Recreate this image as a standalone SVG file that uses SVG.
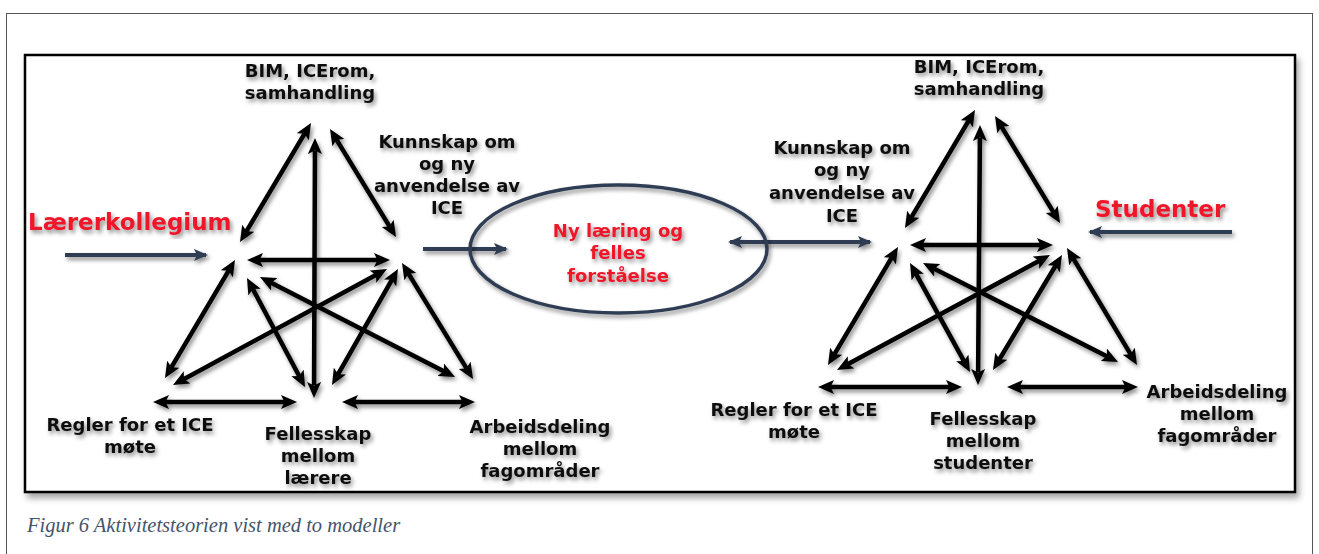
<svg xmlns="http://www.w3.org/2000/svg" width="1319" height="554" viewBox="0 0 1319 554">
  <style>
    .lbl { font-family: "DejaVu Sans", Verdana, sans-serif; font-weight: bold; font-size: 18px; fill: #111; text-anchor: middle; }
    .red { font-family: "DejaVu Sans", Verdana, sans-serif; font-weight: bold; fill: #f0142a; }
    .dbl { stroke: #000; stroke-width: 4.5; fill: none; stroke-dasharray: 0 5 90 5; marker-start: url(#head); marker-end: url(#head); }
    .nav { stroke: #2f3d52; stroke-width: 4; fill: none; }
    .cap { font-family: "Liberation Serif", "Times New Roman", serif; font-style: italic; font-size: 20.5px; fill: #44546a; }
  </style>
  <defs>
    <filter id="sh" x="-10%" y="-10%" width="125%" height="125%">
      <feDropShadow dx="2" dy="3" stdDeviation="2" flood-color="#000" flood-opacity="0.45"/>
    </filter>
    <filter id="boxsh" x="-2%" y="-3%" width="104%" height="108%">
      <feDropShadow dx="3" dy="5" stdDeviation="3" flood-color="#000" flood-opacity="0.35"/>
    </filter>
    <marker id="head" markerUnits="userSpaceOnUse" viewBox="0 0 16 14" markerWidth="16" markerHeight="14" refX="16" refY="7" orient="auto-start-reverse">
      <path d="M0,0 L16,7 L0,14 L3.5,7 z" fill="#000"/>
    </marker>
    <marker id="nhead" markerUnits="userSpaceOnUse" viewBox="0 0 14 12" markerWidth="14" markerHeight="12" refX="12" refY="6" orient="auto-start-reverse">
      <path d="M0,0 L14,6 L0,12 L3,6 z" fill="#2f3d52"/>
    </marker>
  </defs>

  <!-- page frame -->
  <rect x="6.5" y="13.5" width="1306" height="560" fill="#fff" stroke="#555" stroke-width="1"/>

  <!-- figure box -->
  <rect x="25" y="55" width="1270" height="437" fill="#fff" stroke="#000" stroke-width="2.5" filter="url(#boxsh)"/>

  <!-- connectors -->
  <g id="connectors" filter="url(#sh)">
    <!-- left model -->
    <path class="dbl" pathLength="100" d="M240,242 L311,123"/>
    <path class="dbl" pathLength="100" d="M315,138 L314,398"/>
    <path class="dbl" pathLength="100" d="M330,129 L396,237"/>
    <path class="dbl" pathLength="100" d="M247,260 L390,260"/>
    <path class="dbl" pathLength="100" d="M235,260 L165,378"/>
    <path class="dbl" pathLength="100" d="M247,278 L305,387"/>
    <path class="dbl" pathLength="100" d="M260,277 L455,377"/>
    <path class="dbl" pathLength="100" d="M387,269 L173,385"/>
    <path class="dbl" pathLength="100" d="M398,269 L332,385"/>
    <path class="dbl" pathLength="100" d="M402,263 L473,379"/>
    <path class="dbl" pathLength="100" d="M153,402 L297,402"/>
    <path class="dbl" pathLength="100" d="M342,402 L475,402"/>
    <!-- right model -->
    <path class="dbl" pathLength="100" d="M905,228 L975,110"/>
    <path class="dbl" pathLength="100" d="M980,125 L978,385"/>
    <path class="dbl" pathLength="100" d="M995,116 L1060,223"/>
    <path class="dbl" pathLength="100" d="M910,245 L1053,245"/>
    <path class="dbl" pathLength="100" d="M898,247 L828,365"/>
    <path class="dbl" pathLength="100" d="M910,263 L970,372"/>
    <path class="dbl" pathLength="100" d="M923,263 L1118,362"/>
    <path class="dbl" pathLength="100" d="M1050,255 L837,370"/>
    <path class="dbl" pathLength="100" d="M1062,255 L993,370"/>
    <path class="dbl" pathLength="100" d="M1067,248 L1137,365"/>
    <path class="dbl" pathLength="100" d="M818,387 L962,387"/>
    <path class="dbl" pathLength="100" d="M1007,387 L1138,387"/>
    <!-- links between the models -->
    <path class="nav" d="M65,255 L206,255" marker-end="url(#nhead)"/>
    <path class="nav" d="M423,249 L506,249" marker-end="url(#nhead)"/>
    <path class="nav" d="M730,242 L870,242" marker-start="url(#nhead)" marker-end="url(#nhead)"/>
    <path class="nav" d="M1232,232 L1090,232" marker-end="url(#nhead)"/>
  </g>

  <!-- shared outcome -->
  <g id="outcome" filter="url(#sh)">
    <ellipse cx="618.5" cy="249" rx="148.5" ry="64" fill="none" stroke="#2f3d52" stroke-width="3.5"/>
    <text class="red" font-size="18" text-anchor="middle"><tspan x="618" y="237">Ny læring og</tspan><tspan x="618" y="259">felles</tspan><tspan x="618" y="282">forståelse</tspan></text>
  </g>

  <!-- left model: teachers -->
  <g id="left-subject" filter="url(#sh)">
    <text class="red" font-size="23" x="28" y="230">Lærerkollegium</text>
  </g>
  <g id="left-tools" filter="url(#sh)">
    <text class="lbl"><tspan x="310" y="77">BIM, ICErom,</tspan><tspan x="310" y="99">samhandling</tspan></text>
  </g>
  <g id="left-object" filter="url(#sh)">
    <text class="lbl"><tspan x="447" y="148">Kunnskap om</tspan><tspan x="447" y="170">og ny</tspan><tspan x="447" y="192">anvendelse av</tspan><tspan x="447" y="214">ICE</tspan></text>
  </g>
  <g id="left-rules" filter="url(#sh)">
    <text class="lbl"><tspan x="130" y="431">Regler for et ICE</tspan><tspan x="130" y="453">møte</tspan></text>
  </g>
  <g id="left-community" filter="url(#sh)">
    <text class="lbl"><tspan x="318" y="440">Fellesskap</tspan><tspan x="318" y="462">mellom</tspan><tspan x="318" y="484">lærere</tspan></text>
  </g>
  <g id="left-division" filter="url(#sh)">
    <text class="lbl"><tspan x="540" y="433">Arbeidsdeling</tspan><tspan x="540" y="455">mellom</tspan><tspan x="540" y="477">fagområder</tspan></text>
  </g>

  <!-- right model: students -->
  <g id="right-subject" filter="url(#sh)">
    <text class="red" font-size="23" x="1095" y="217">Studenter</text>
  </g>
  <g id="right-tools" filter="url(#sh)">
    <text class="lbl"><tspan x="979" y="73">BIM, ICErom,</tspan><tspan x="979" y="95">samhandling</tspan></text>
  </g>
  <g id="right-object" filter="url(#sh)">
    <text class="lbl"><tspan x="842" y="154">Kunnskap om</tspan><tspan x="842" y="176">og ny</tspan><tspan x="842" y="199">anvendelse av</tspan><tspan x="842" y="222">ICE</tspan></text>
  </g>
  <g id="right-rules" filter="url(#sh)">
    <text class="lbl"><tspan x="794" y="416">Regler for et ICE</tspan><tspan x="794" y="438">møte</tspan></text>
  </g>
  <g id="right-community" filter="url(#sh)">
    <text class="lbl"><tspan x="983" y="425">Fellesskap</tspan><tspan x="983" y="447">mellom</tspan><tspan x="983" y="469">studenter</tspan></text>
  </g>
  <g id="right-division" filter="url(#sh)">
    <text class="lbl"><tspan x="1217" y="398">Arbeidsdeling</tspan><tspan x="1217" y="420">mellom</tspan><tspan x="1217" y="442">fagområder</tspan></text>
  </g>

  <!-- caption -->
  <text class="cap" x="27" y="532">Figur 6 Aktivitetsteorien vist med to modeller</text>
</svg>
